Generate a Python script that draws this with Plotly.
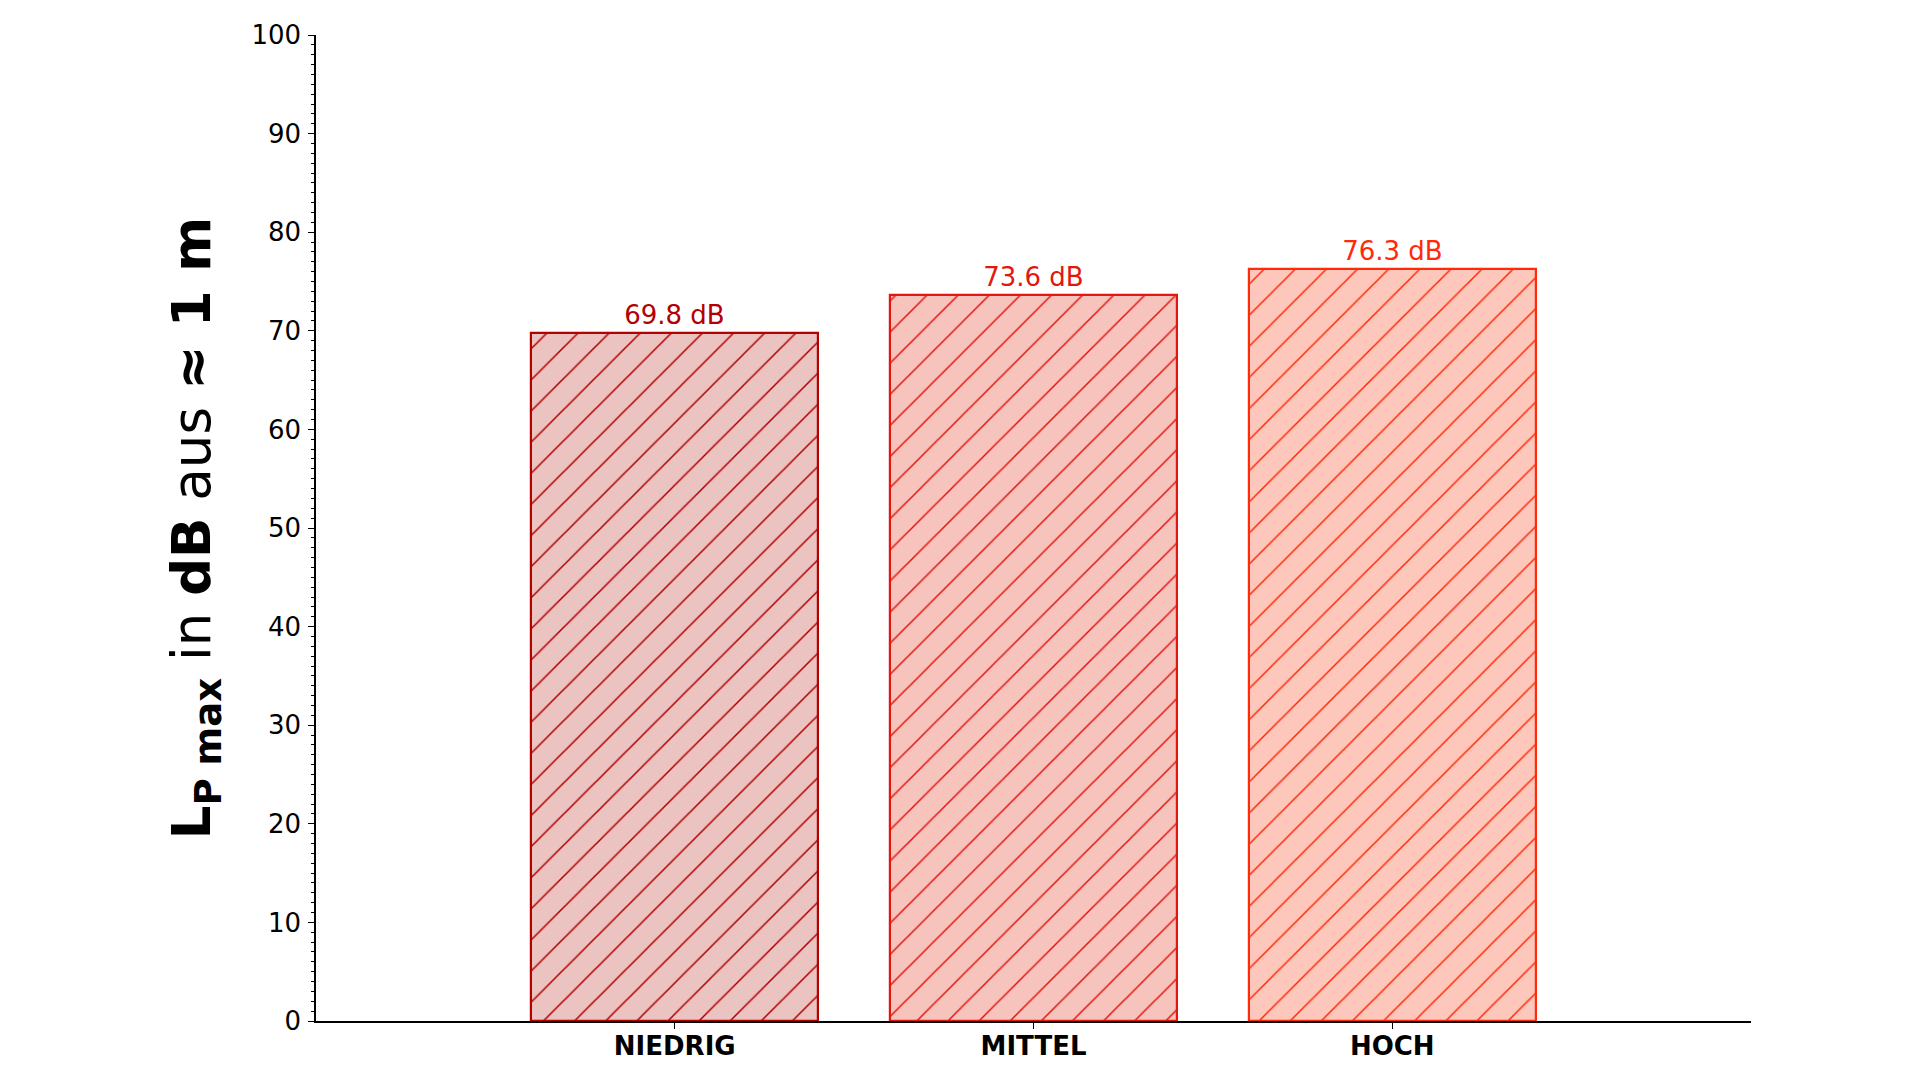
import plotly.graph_objects as go

# Pegel je Stufe
stufen = ["NIEDRIG", "MITTEL", "HOCH"]
pegel = [69.8, 73.6, 76.3]
beschriftung = ["69.8 dB", "73.6 dB", "76.3 dB"]

kanten = ["#b30000", "#e3170f", "#ff2a0a"]
fuellung = ["#ebc3c0", "#f6c4bd", "#fdc7bb"]

fig = go.Figure()

for i in range(len(stufen)):
    fig.add_trace(go.Bar(
        x=[i], y=[pegel[i]], width=0.8,
        text=[beschriftung[i]], textposition="outside",
        textfont=dict(size=26, color=kanten[i], family="DejaVu Sans"),
        cliponaxis=False,
        marker=dict(
            color=fuellung[i],
            line=dict(color=kanten[i], width=2.2),
            pattern=dict(shape="/", size=22, solidity=0.07,
                         fgcolor=kanten[i], bgcolor=fuellung[i], fillmode="replace"),
        ),
        showlegend=False,
    ))

# die Seite verschiebt die Grafik um 8px (body margin), daher l/t kleiner
fig.update_layout(
    width=1920, height=1080,
    margin=dict(l=308, r=177, t=19, b=67),
    plot_bgcolor="white", paper_bgcolor="white",
    font=dict(family="DejaVu Sans", color="black"),
    bargap=0,
)

fig.update_xaxes(
    range=[-1, 3],
    tickmode="array", tickvals=[0, 1, 2],
    ticktext=["<b>" + s + "</b>" for s in stufen],
    tickfont=dict(size=26),
    showline=True, linecolor="black", linewidth=1.5,
    ticks="outside", ticklen=6, tickcolor="black",
    ticklabelstandoff=-5,
    showgrid=False, zeroline=False,
)

fig.update_yaxes(
    range=[0, 100], dtick=10,
    tickfont=dict(size=26),
    showline=True, linecolor="black", linewidth=1.5,
    ticks="outside", ticklen=6, tickcolor="black",
    ticklabelstandoff=2,
    minor=dict(dtick=1, ticks="outside", ticklen=3, tickcolor="black"),
    showgrid=False, zeroline=False,
    title=dict(
        text="<b>L<sub>P max</sub></b> in <b>dB</b> aus <b>≈ 1 m</b>",
        font=dict(size=53), standoff=24,
    ),
)

fig.write_html("out.html")
